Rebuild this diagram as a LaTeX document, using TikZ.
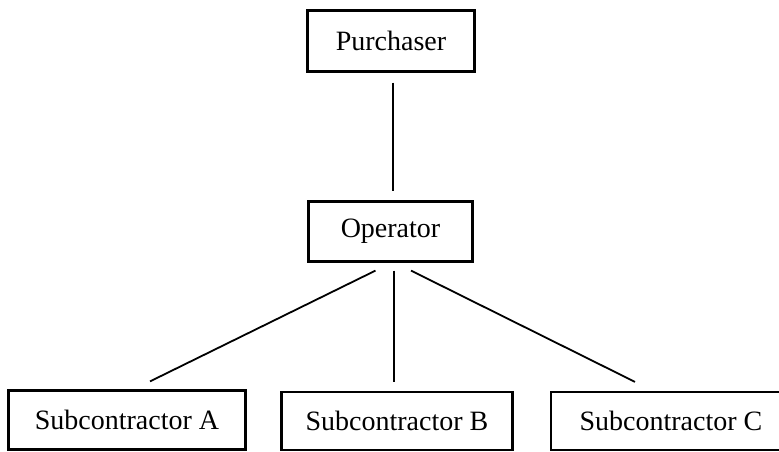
\documentclass[tikz,border=0pt]{standalone}
\usepackage{fontspec}
\setmainfont{Liberation Serif}
\begin{document}
\begin{tikzpicture}[x=1pt,y=-1pt,
  box/.style={draw=black,line width=2.2pt,fill=white,inner sep=0pt,
    font=\fontsize{28}{32}\selectfont,anchor=center},
  link/.style={draw=black,line width=1.8pt}]
\useasboundingbox (0,0) rectangle (779,452);
\clip (0,0) rectangle (779,452);
\node[box,minimum width=167pt,minimum height=61pt] (pur) at (391,41) {Purchaser};
\node[box,minimum width=164pt,minimum height=60pt] (op) at (390.5,231.5) {Operator};
\node[box,minimum width=237pt,minimum height=59pt] (sa) at (127,420) {Subcontractor A};
\node[box,minimum width=231pt,minimum height=58pt] (sb) at (397,421) {Subcontractor B};
\node[box,minimum width=240pt,minimum height=58pt] (sc) at (671,421) {Subcontractor C};
\draw[link] ([xshift=2pt,yshift=-10pt]pur.south) -- ([xshift=2.5pt,yshift=9pt]op.north);
\draw[link] ([xshift=-15pt,yshift=-8pt]op.south) -- ([xshift=23pt,yshift=8pt]sa.north);
\draw[link] ([xshift=3.5pt,yshift=-8pt]op.south) -- ([xshift=-3pt,yshift=9pt]sb.north);
\draw[link] ([xshift=20.5pt,yshift=-8pt]op.south) -- ([xshift=-36pt,yshift=9pt]sc.north);
\end{tikzpicture}
\end{document}
